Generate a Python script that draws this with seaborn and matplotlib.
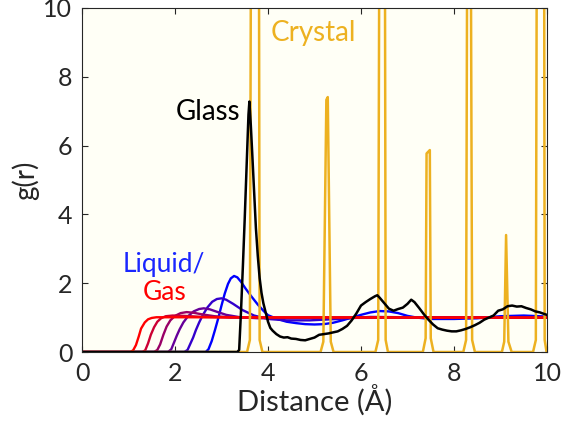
import numpy as np
import pandas as pd
import matplotlib
matplotlib.use("Agg")
import matplotlib.pyplot as plt
import seaborn as sns

# ---- data -------------------------------------------------------------
# Crystal (fcc) g(r): sampled polyline with sharp shell peaks
crystal_r = [0.0, 3.55, 3.61, 3.69, 3.77, 3.82, 3.88,
             5.13, 5.19, 5.255, 5.285, 5.35, 5.41,
             6.31, 6.37, 6.43, 6.49, 6.53, 6.58,
             7.33, 7.39, 7.41, 7.48, 7.50, 7.56,
             8.20, 8.26, 8.31, 8.33, 8.39, 8.45,
             9.03, 9.08, 9.12, 9.17, 9.24,
             9.70, 9.76, 9.83, 9.91, 9.95, 9.99, 10.0]
crystal_g = [0.0, 0.0, 0.35, 40.0, 40.0, 0.35, 0.0,
             0.0, 0.3, 7.33, 7.41, 0.3, 0.0,
             0.0, 0.35, 30.0, 30.0, 0.35, 0.0,
             0.0, 0.4, 5.77, 5.87, 0.4, 0.0,
             0.0, 0.35, 25.0, 25.0, 0.35, 0.0,
             0.0, 0.3, 3.40, 0.3, 0.0,
             0.0, 0.35, 40.0, 40.0, 0.35, 0.0, 0.0]

# Glass g(r)
glass_r = [0.0, 3.34, 3.38, 3.42, 3.46, 3.50, 3.54, 3.58, 3.60, 3.63, 3.66,
           3.70, 3.74, 3.78, 3.82, 3.86, 3.90, 3.95, 4.00, 4.05, 4.10, 4.18,
           4.26, 4.34, 4.42, 4.50, 4.60, 4.70, 4.80, 4.90, 5.00, 5.10, 5.20,
           5.30, 5.40, 5.50, 5.60, 5.70, 5.80, 5.90, 6.00, 6.10, 6.20, 6.30,
           6.35, 6.40, 6.50, 6.60, 6.70, 6.80, 6.90, 7.00, 7.08, 7.15, 7.25,
           7.35, 7.45, 7.55, 7.65, 7.75, 7.85, 7.95, 8.05, 8.15, 8.25, 8.35,
           8.45, 8.55, 8.65, 8.75, 8.85, 8.95, 9.05, 9.15, 9.25, 9.35, 9.45,
           9.55, 9.65, 9.75, 9.85, 9.95, 10.0]
glass_g = [0.0, 0.0, 0.06, 1.2, 2.5, 3.9, 5.4, 6.9, 7.28, 6.6, 5.8,
           4.7, 3.6, 2.8, 2.15, 1.72, 1.42, 1.15, 0.88, 0.70, 0.62, 0.52,
           0.45, 0.42, 0.43, 0.39, 0.38, 0.35, 0.34, 0.38, 0.42, 0.50, 0.52,
           0.54, 0.57, 0.60, 0.67, 0.76, 0.92, 1.12, 1.35, 1.45, 1.54, 1.62,
           1.65, 1.58, 1.42, 1.26, 1.20, 1.25, 1.29, 1.40, 1.52, 1.45, 1.28,
           1.10, 0.94, 0.80, 0.69, 0.65, 0.62, 0.60, 0.60, 0.63, 0.67, 0.72,
           0.78, 0.85, 0.94, 1.00, 1.06, 1.20, 1.24, 1.33, 1.35, 1.32, 1.33,
           1.28, 1.24, 1.18, 1.15, 1.10, 1.08]

# Liquid -> gas g(r), from densest liquid (blue) to gas (red)
liq1_r = [0, 2.66, 2.72, 2.79, 2.86, 2.93, 3.0, 3.07, 3.14, 3.2, 3.27, 3.34,
          3.42, 3.52, 3.64, 3.78, 3.9, 4.0, 4.2, 4.4, 4.6, 4.8, 5.0, 5.2, 5.4,
          5.6, 5.8, 6.0, 6.2, 6.4, 6.6, 6.8, 7.0, 7.2, 7.5, 8.0, 8.5, 9.0,
          9.5, 10]
liq1_g = [0, 0, 0.08, 0.32, 0.64, 0.98, 1.35, 1.70, 1.98, 2.14, 2.21, 2.17,
          2.04, 1.84, 1.62, 1.38, 1.20, 1.07, 0.96, 0.88, 0.84, 0.81, 0.80,
          0.81, 0.85, 0.92, 1.00, 1.08, 1.15, 1.19, 1.18, 1.13, 1.05, 1.00,
          0.96, 0.96, 0.98, 1.04, 1.06, 1.03]
liq2_r = [0, 2.2, 2.27, 2.33, 2.39, 2.45, 2.52, 2.6, 2.7, 2.8, 2.9, 3.0, 3.1,
          3.25, 3.45, 3.7, 4.0, 4.4, 4.9, 5.5, 6.2, 7.0, 10]
liq2_g = [0, 0, 0.06, 0.24, 0.42, 0.64, 0.86, 1.08, 1.30, 1.46, 1.54, 1.56,
          1.52, 1.40, 1.22, 1.06, 0.96, 0.92, 0.92, 0.96, 1.02, 1.01, 1.0]
liq3_r = [0, 1.85, 1.92, 1.98, 2.04, 2.10, 2.18, 2.28, 2.40, 2.52, 2.62, 2.75,
          2.90, 3.10, 3.40, 3.80, 4.50, 10]
liq3_g = [0, 0, 0.08, 0.28, 0.48, 0.66, 0.86, 1.04, 1.18, 1.25, 1.27, 1.24,
          1.17, 1.08, 1.01, 0.98, 0.99, 1.0]
liq4_r = [0, 1.55, 1.62, 1.68, 1.75, 1.82, 1.90, 2.00, 2.12, 2.25, 2.40, 2.60,
          2.85, 3.20, 4.0, 10]
liq4_g = [0, 0, 0.06, 0.22, 0.50, 0.74, 0.92, 1.05, 1.13, 1.16, 1.14, 1.09,
          1.04, 1.01, 1.0, 1.0]
liq5_r = [0, 1.30, 1.36, 1.42, 1.48, 1.55, 1.62, 1.70, 1.80, 1.95, 2.20, 2.60,
          3.20, 10]
liq5_g = [0, 0, 0.05, 0.25, 0.50, 0.72, 0.88, 0.98, 1.04, 1.06, 1.05, 1.02,
          1.0, 1.0]
gas_r = [0, 1.04, 1.10, 1.16, 1.22, 1.27, 1.35, 1.42, 1.50, 1.60, 1.80, 10]
gas_g = [0, 0, 0.05, 0.20, 0.45, 0.68, 0.86, 0.95, 0.99, 1.01, 1.01, 1.0]

fluid_names = ["L1", "L2", "L3", "L4", "L5", "Gas"]
fluid_r = [liq1_r, liq2_r, liq3_r, liq4_r, liq5_r, gas_r]
fluid_g = [liq1_g, liq2_g, liq3_g, liq4_g, liq5_g, gas_g]

x_ticks = [0, 2, 4, 6, 8, 10]
y_ticks = [0, 2, 4, 6, 8, 10]

# ---- styling ----------------------------------------------------------
sns.set_theme(style="ticks")
plt.rcParams["font.family"] = ["Lato", "DejaVu Sans"]
ink = "#262626"
crystal_col = "#EDB120"
fluid_cols = [(0.0, 0.0, 1.0), (0.2, 0.0, 0.8), (0.4, 0.0, 0.6),
              (0.6, 0.0, 0.4), (0.8, 0.0, 0.2), (1.0, 0.0, 0.0)]

fluid_df = pd.concat(
    [pd.DataFrame({"r": r, "g": g, "phase": n})
     for n, r, g in zip(fluid_names, fluid_r, fluid_g)],
    ignore_index=True)
crystal_df = pd.DataFrame({"r": crystal_r, "g": crystal_g})
glass_df = pd.DataFrame({"r": glass_r, "g": glass_g})

fig = plt.figure(figsize=(5.76, 4.29), dpi=100)
ax = fig.add_axes([82 / 576, 1 - 352 / 429, 465 / 576, 344 / 429])
ax.set_facecolor("#FFFFF6")

sns.lineplot(data=fluid_df, x="r", y="g", hue="phase",
             palette=dict(zip(fluid_names, fluid_cols)), hue_order=fluid_names,
             estimator=None, sort=False, lw=1.7, legend=False, ax=ax)
sns.lineplot(data=crystal_df, x="r", y="g", color=crystal_col,
             estimator=None, sort=False, lw=1.8, ax=ax)
sns.lineplot(data=glass_df, x="r", y="g", color="black",
             estimator=None, sort=False, lw=1.8, ax=ax)

ax.set_xlim(0, 10)
ax.set_ylim(0, 10)
ax.set_xticks(x_ticks)
ax.set_yticks(y_ticks)
ax.tick_params(direction="in", top=True, right=True, length=4, width=0.8,
               colors=ink, labelsize=18, pad=7)
for s in ax.spines.values():
    s.set_color(ink)
    s.set_linewidth(0.8)
ax.set_xlabel("Distance (Å)", fontsize=21, color=ink, labelpad=0)
ax.set_ylabel("g(r)", fontsize=20, color=ink, labelpad=3)

ax.text(4.97, 9.27, "Crystal", color=crystal_col, fontsize=20,
        ha="center", va="center")
ax.text(3.40, 6.98, "Glass", color="black", fontsize=20,
        ha="right", va="center")
ax.text(1.76, 2.55, "Liquid/", color=(0.1, 0.15, 1.0), fontsize=19,
        ha="center", va="center")
ax.text(1.78, 1.74, "Gas", color=(1.0, 0.0, 0.0), fontsize=19,
        ha="center", va="center")

fig.savefig("out.png", dpi=100)
